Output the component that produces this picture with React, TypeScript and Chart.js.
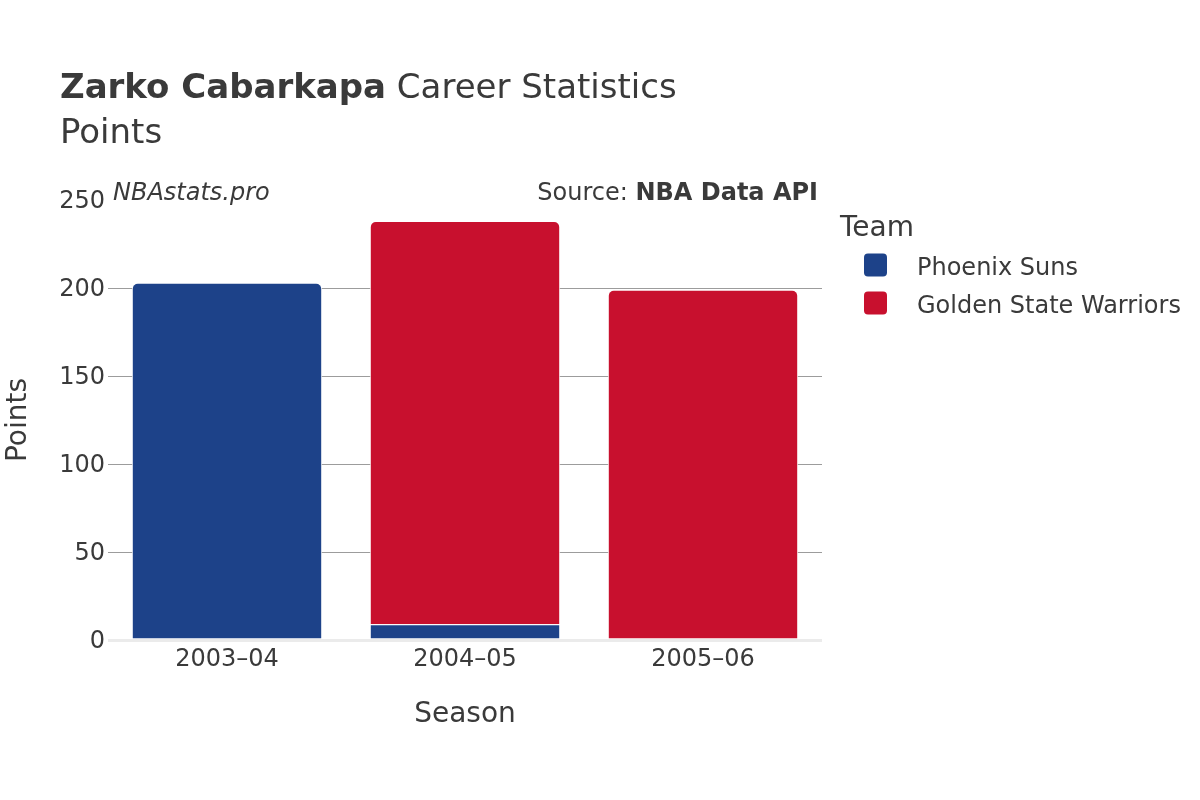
import React, { useEffect, useRef } from "react";
import { Chart, registerables } from "chart.js";

Chart.register(...registerables);

const seasons = ["2003–04", "2004–05", "2005–06"];
const phoenixSuns = [203, 9, null];
const goldenStateWarriors = [null, 229, 199];
const yTicks = [0, 50, 100, 150, 200, 250];
const teamNames = ["Phoenix Suns", "Golden State Warriors"];
const teamColors = ["#1d4289", "#c8102e"];

const FONT = "'DejaVu Sans', sans-serif";
const TEXT = "#3a3a3a";

const overlay = {
  id: "overlay",
  afterDraw(chart: any) {
    const ctx = chart.ctx;
    const ca = chart.chartArea;
    ctx.save();
    ctx.fillStyle = TEXT;
    ctx.textBaseline = "alphabetic";
    ctx.textAlign = "left";
    // Title
    ctx.font = `bold 34px ${FONT}`;
    const bold = "Zarko Cabarkapa";
    ctx.fillText(bold, 60, 98);
    const bw = ctx.measureText(bold).width;
    ctx.font = `34px ${FONT}`;
    ctx.fillText(" Career Statistics", 60 + bw, 98);
    ctx.fillText("Points", 60, 143);
    // watermark & source
    ctx.font = `italic 24px ${FONT}`;
    ctx.fillText("NBAstats.pro", 113, 200);
    ctx.textAlign = "right";
    ctx.font = `bold 24px ${FONT}`;
    const src = "NBA Data API";
    ctx.fillText(src, 818, 200);
    const sw = ctx.measureText(src).width;
    ctx.font = `24px ${FONT}`;
    ctx.fillText("Source: ", 818 - sw, 200);
    // axis titles
    ctx.textAlign = "center";
    ctx.font = `28px ${FONT}`;
    ctx.fillText("Season", (ca.left + ca.right) / 2, 722);
    ctx.save();
    ctx.translate(26, (ca.top + ca.bottom) / 2);
    ctx.rotate(-Math.PI / 2);
    ctx.fillText("Points", 0, 0);
    ctx.restore();
    // legend
    ctx.textAlign = "left";
    ctx.font = `28px ${FONT}`;
    ctx.fillText("Team", 840, 236);
    ctx.font = `24px ${FONT}`;
    teamNames.forEach((name, i) => {
      const cy = 265 + i * 38;
      ctx.fillStyle = teamColors[i];
      ctx.beginPath();
      (ctx as any).roundRect(864, cy - 11.5, 23, 23, 4);
      ctx.fill();
      ctx.fillStyle = TEXT;
      ctx.fillText(name, 917, cy + 10);
    });
    ctx.restore();
  },
};

export default function App() {
  const ref = useRef<HTMLCanvasElement>(null);
  useEffect(() => {
    const chart = new Chart(ref.current!, {
      type: "bar",
      data: {
        labels: seasons,
        datasets: [
          {
            label: teamNames[0],
            data: phoenixSuns as any,
            backgroundColor: teamColors[0],
            borderColor: "#ffffff",
            borderWidth: 1,
            borderRadius: 6,
            borderSkipped: "start",
            categoryPercentage: 0.8,
            barPercentage: 1,
          },
          {
            label: teamNames[1],
            data: goldenStateWarriors as any,
            backgroundColor: teamColors[1],
            borderColor: "#ffffff",
            borderWidth: 1,
            borderRadius: 6,
            borderSkipped: "start",
            categoryPercentage: 0.8,
            barPercentage: 1,
          },
        ],
      },
      options: {
        responsive: false,
        animation: false,
        layout: { padding: { left: 0, right: 378, top: 200, bottom: 0 } },
        plugins: { legend: { display: false }, tooltip: { enabled: false }, title: { display: false } },
        scales: {
          x: {
            stacked: true,
            afterFit: (s: any) => { s.height = 160; },
            grid: { display: false, drawTicks: false },
            border: { display: false },
            ticks: { color: TEXT, font: { family: FONT, size: 24 }, padding: 5 },
          },
          y: {
            stacked: true,
            min: 0,
            max: 250,
            afterFit: (s: any) => { s.width = 108; },
            afterBuildTicks: (s: any) => { s.ticks = yTicks.map((v) => ({ value: v })); },
            border: { display: false },
            grid: {
              drawTicks: false,
              color: (c: any) => (c.tick && c.tick.value === 0 ? "#ebebeb" : c.tick && c.tick.value === 250 ? "rgba(0,0,0,0)" : "#9c9c9c"),
              lineWidth: (c: any) => (c.tick && c.tick.value === 0 ? 3 : 1),
            },
            ticks: { color: TEXT, font: { family: FONT, size: 24 }, padding: 3, labelOffset: 2 },
          },
        },
      },
      plugins: [overlay],
    });
    return () => chart.destroy();
  }, []);
  return (
    <div style={{ position: "fixed", left: 0, top: 0, width: 1200, height: 800, background: "#fff" }}>
      <canvas ref={ref} width={1200} height={800} />
    </div>
  );
}
